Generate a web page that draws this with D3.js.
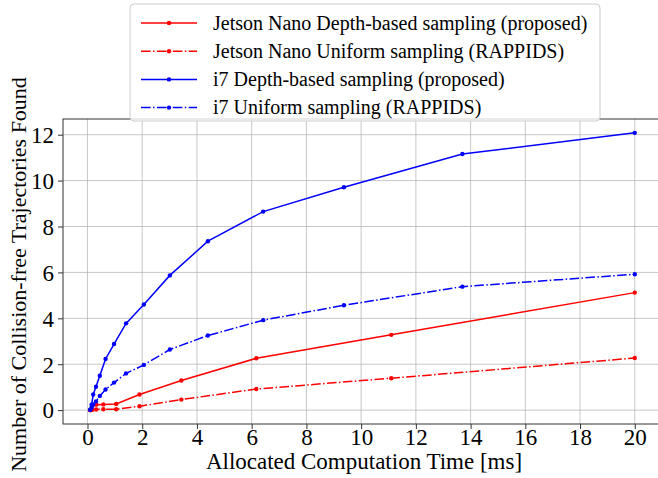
<!DOCTYPE html>
<html>
<head>
<meta charset="utf-8">
<script src="https://cdn.jsdelivr.net/npm/d3@7"></script>
<style>
  body { margin: 0; background: #fff; }
  svg { display: block; font-family: "Liberation Serif", "DejaVu Serif", serif; }
</style>
</head>
<body>
<script>
// values
var i7Time = [0.1, 0.15, 0.21, 0.31, 0.45, 0.66, 0.97, 1.41, 2.06, 3.01, 4.4, 6.42, 9.37, 13.7, 20];
var i7Depth = [0.02, 0.24, 0.68, 1.02, 1.5, 2.23, 2.88, 3.78, 4.6, 5.87, 7.36, 8.65, 9.71, 11.16, 12.08];
var i7Uniform = [0.02, 0.12, 0.25, 0.38, 0.62, 0.9, 1.2, 1.6, 1.97, 2.64, 3.25, 3.92, 4.57, 5.38, 5.92];
var nanoTime = [0.1, 0.18, 0.32, 0.58, 1.05, 1.9, 3.43, 6.17, 11.1, 20];
var nanoDepth = [0.0, 0.2, 0.24, 0.25, 0.27, 0.68, 1.29, 2.26, 3.28, 5.12];
var nanoUniform = [0.0, 0.02, 0.03, 0.04, 0.04, 0.17, 0.46, 0.92, 1.39, 2.27];
var xTicks = [0, 2, 4, 6, 8, 10, 12, 14, 16, 18, 20];
var yTicks = [0, 2, 4, 6, 8, 10, 12];

var series = [
  {name: "Jetson Nano Depth-based sampling (proposed)", x: nanoTime, y: nanoDepth, color: "#ff0000", dash: null},
  {name: "Jetson Nano Uniform sampling (RAPPIDS)", x: nanoTime, y: nanoUniform, color: "#ff0000", dash: "9.6,2.4,1.5,2.4"},
  {name: "i7 Depth-based sampling (proposed)", x: i7Time, y: i7Depth, color: "#0000ff", dash: null},
  {name: "i7 Uniform sampling (RAPPIDS)", x: i7Time, y: i7Uniform, color: "#0000ff", dash: "9.6,2.4,1.5,2.4"}
];

var W = 658, H = 478;
var pLeft = 63, pTop = 119, pRight = 662, pBottom = 424;
var serif = "'Liberation Serif', 'DejaVu Serif', serif";

var svg = d3.select("body").append("svg")
  .attr("width", W).attr("height", H);

var x = d3.scaleLinear().domain([-0.895, 20.995]).range([pLeft, pRight]);
var y = d3.scaleLinear().domain([-0.604, 12.684]).range([pBottom, pTop]);

/*** grid ***/
var grid = svg.append("g");
grid.selectAll(".gx").data(xTicks).enter().append("line")
  .attr("x1", function(d) { return x(d); }).attr("x2", function(d) { return x(d); })
  .attr("y1", pTop).attr("y2", pBottom)
  .attr("stroke", "#b0b0b0").attr("stroke-opacity", 0.7).attr("stroke-width", 1);
grid.selectAll(".gy").data(yTicks).enter().append("line")
  .attr("y1", function(d) { return y(d); }).attr("y2", function(d) { return y(d); })
  .attr("x1", pLeft).attr("x2", pRight)
  .attr("stroke", "#b0b0b0").attr("stroke-opacity", 0.7).attr("stroke-width", 1);

/*** axes ***/
var xAxis = d3.axisBottom(x).tickValues(xTicks).tickSize(5).tickPadding(2).tickFormat(d3.format("d"));
var yAxis = d3.axisLeft(y).tickValues(yTicks).tickSize(5).tickPadding(4).tickFormat(d3.format("d"));

var gx = svg.append("g").attr("transform", "translate(0," + pBottom + ")").call(xAxis);
var gy = svg.append("g").attr("transform", "translate(" + pLeft + ",0)").call(yAxis);
[gx, gy].forEach(function(g) {
  g.attr("font-family", serif).attr("font-size", 23);
  g.select(".domain").remove();
  g.selectAll("line").attr("stroke", "#333");
  g.selectAll("text").attr("fill", "#000");
});
gx.selectAll("text").attr("dy", "0.62em");
gy.selectAll("text").attr("dy", "0.34em");

// spines
svg.append("rect").attr("x", pLeft).attr("y", pTop)
  .attr("width", pRight - pLeft).attr("height", pBottom - pTop)
  .attr("fill", "none").attr("stroke", "#333").attr("stroke-width", 1);

/*** lines ***/
var line = d3.line()
  .x(function(d) { return x(d[0]); })
  .y(function(d) { return y(d[1]); });

series.forEach(function(s) {
  var pts = s.x.map(function(v, i) { return [v, s.y[i]]; });
  svg.append("path").datum(pts)
    .attr("d", line)
    .attr("fill", "none")
    .attr("stroke", s.color)
    .attr("stroke-width", 1.5)
    .attr("stroke-dasharray", s.dash);
  svg.append("g").selectAll("circle").data(pts).enter().append("circle")
    .attr("cx", function(d) { return x(d[0]); })
    .attr("cy", function(d) { return y(d[1]); })
    .attr("r", 2.2)
    .attr("fill", s.color);
});

/*** axis titles ***/
svg.append("text")
  .attr("x", 364).attr("y", 469)
  .attr("text-anchor", "middle")
  .style("font-family", serif)
  .style("font-size", "23px")
  .text("Allocated Computation Time [ms]");
svg.append("text")
  .attr("transform", "translate(26," + ((pTop + pBottom) / 2 + 3) + ") rotate(-90)")
  .attr("text-anchor", "middle")
  .style("font-family", serif)
  .style("font-size", "22px")
  .text("Number of Collision-free Trajectories Found");

/*** legend ***/
var lg = svg.append("g");
lg.append("rect")
  .attr("x", 130).attr("y", 4).attr("width", 470).attr("height", 117)
  .attr("rx", 4)
  .attr("fill", "#fff").attr("fill-opacity", 0.8)
  .attr("stroke", "#cccccc").attr("stroke-width", 1);
series.forEach(function(s, i) {
  var cy = 23 + i * 28.2;
  lg.append("line")
    .attr("x1", 141).attr("x2", 197).attr("y1", cy).attr("y2", cy)
    .attr("stroke", s.color).attr("stroke-width", 1.5)
    .attr("stroke-dasharray", s.dash);
  lg.append("circle").attr("cx", 169).attr("cy", cy).attr("r", 2.2).attr("fill", s.color);
  lg.append("text")
    .attr("x", 213).attr("y", cy).attr("dy", "0.33em")
    .style("font-family", serif)
    .style("font-size", "20px")
    .text(s.name);
});
</script>
</body>
</html>
